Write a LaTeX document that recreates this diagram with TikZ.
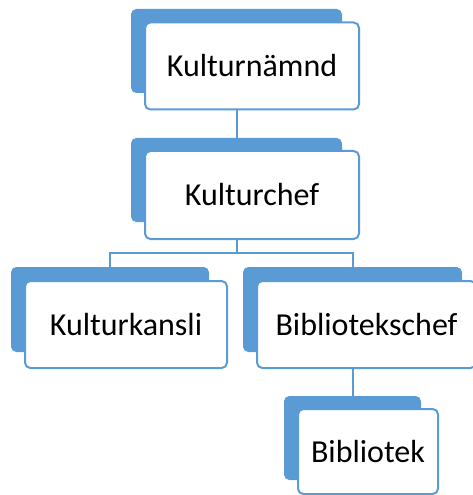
\documentclass[tikz,border=0pt]{standalone}
\usepackage{fontspec}
\setmainfont{Carlito}
\usepackage{tikz}
\usetikzlibrary{positioning}
\definecolor{orgblue}{HTML}{5B9BD5}

\begin{document}
\begin{tikzpicture}[x=0.75pt, y=-0.75pt,
  back/.style={rounded corners=4pt, fill=orgblue, inner sep=0pt},
  card/.style={rounded corners=4pt, draw=orgblue, line width=1.5pt, fill=white,
    inner sep=0pt, font=\fontsize{24}{28}\selectfont},
  link/.style={draw=orgblue, line width=1.5pt}
]
  \useasboundingbox (0,0) rectangle (472,495);

  % back plates
  \node[back, minimum width=158.25pt, minimum height=63pt] (naemnd-bg) at (236.5,51) {};
  \node[back, minimum width=158.25pt, minimum height=63pt] (chef-bg) at (236.5,180) {};
  \node[back, minimum width=148.5pt, minimum height=63.75pt] (kansli-bg) at (110,309.5) {};
  \node[back, minimum width=164.25pt, minimum height=63.75pt] (bchef-bg) at (352.5,309.5) {};
  \node[back, minimum width=102.75pt, minimum height=63pt] (bib-bg) at (352.5,438) {};

  % connectors
  \draw[link] (naemnd-bg) -- (chef-bg);
  \draw[link] (chef-bg.south) -- ++(0,31) -| (kansli-bg.north);
  \draw[link] (chef-bg.south) -- ++(0,31) -| (bchef-bg.north);
  \draw[link] (bchef-bg) -- (bib-bg);

  % front cards
  \node[card, minimum width=160.5pt, minimum height=65.25pt] (naemnd) at (252,66) {Kulturnämnd};
  \node[card, minimum width=160.5pt, minimum height=66pt] (chef) at (252,195) {Kulturchef};
  \node[card, minimum width=151.5pt, minimum height=65.25pt] (kansli) at (126,324.5) {Kulturkansli};
  \node[card, minimum width=164.25pt, minimum height=65.25pt] (bchef) at (366.5,324.5) {Bibliotekschef};
  \node[card, minimum width=105pt, minimum height=63.75pt] (bib) at (368,451.5) {Bibliotek};
\end{tikzpicture}
\end{document}
